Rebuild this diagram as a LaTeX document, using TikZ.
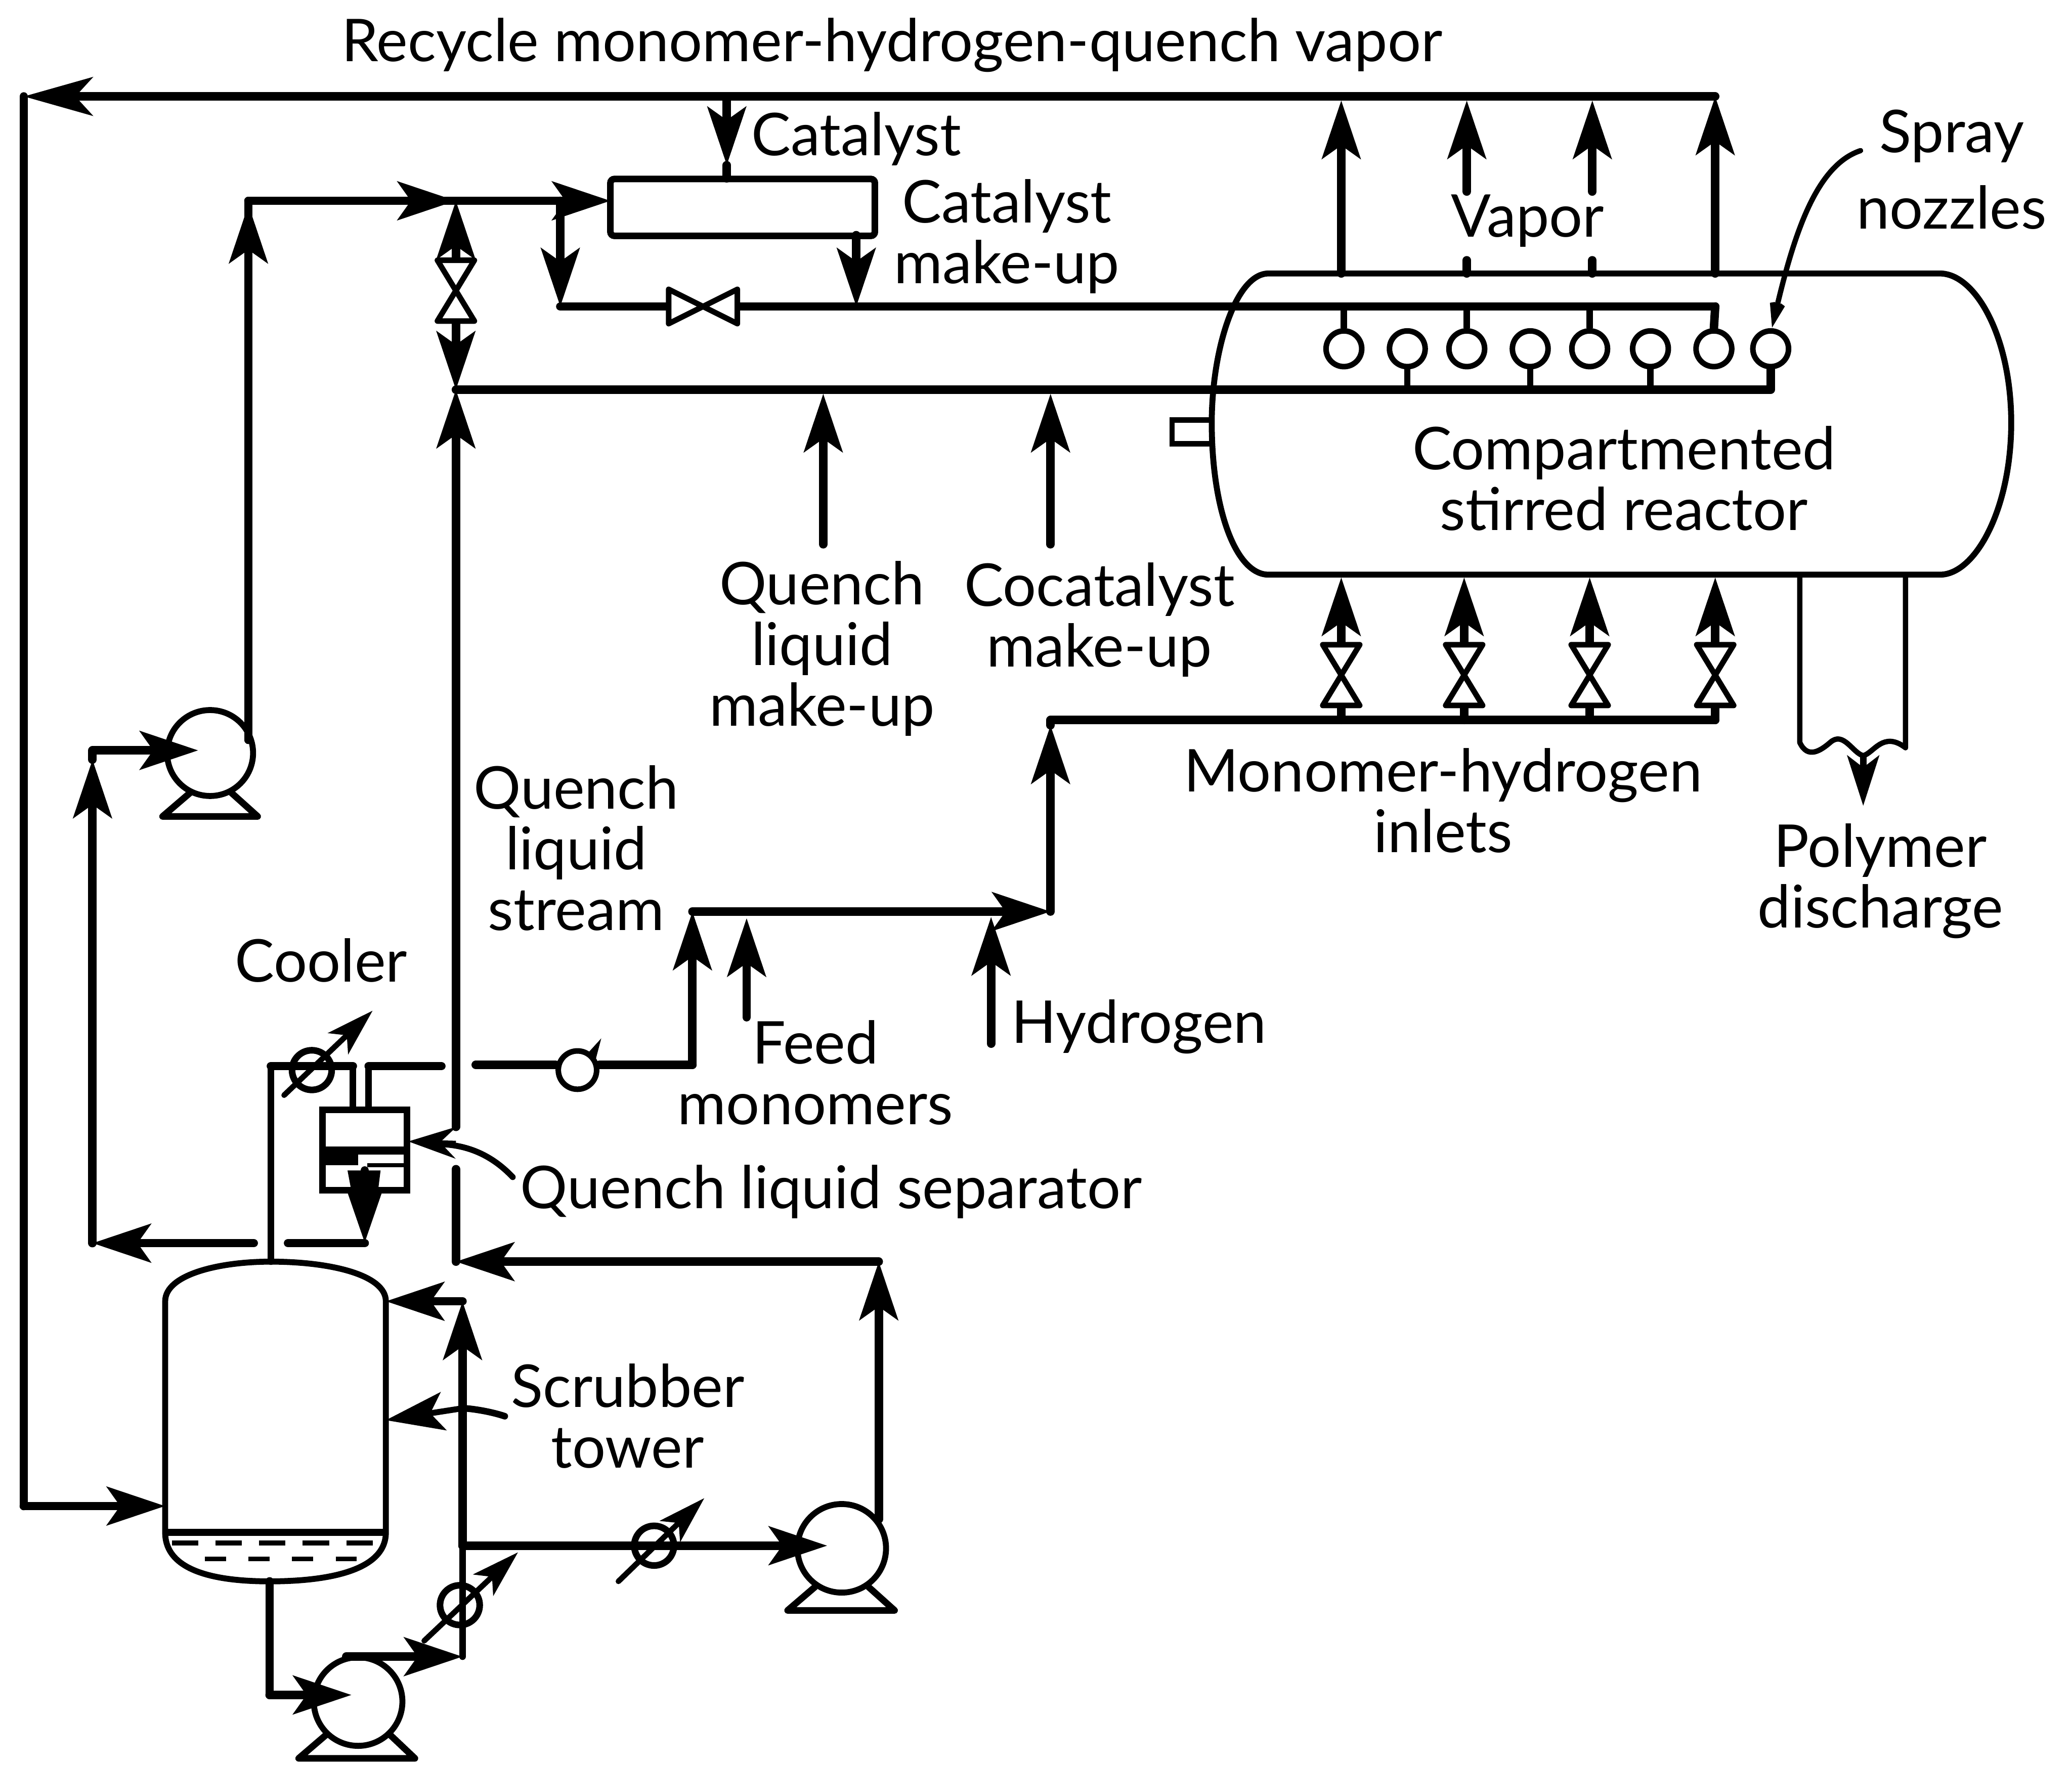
\documentclass[tikz,border=0pt]{standalone}
\usepackage{fontspec}
\setmainfont{Lato}
\usetikzlibrary{arrows.meta,calc}
\tikzset{
  pipe/.style={line width=.064cm,line cap=round,line join=round},
  thinpipe/.style={line width=.042cm,line cap=round,line join=round},
  hd/.style={-{Stealth[length=.44cm,width=.29cm,inset=.1cm]}},
  longhd/.style={-{Stealth[length=.52cm,width=.29cm,inset=.13cm]}},
  smallhd/.style={-{Stealth[length=.36cm,width=.22cm,inset=.09cm]}},
  openhd/.style={-{Stealth[length=.37cm,width=.24cm,inset=.22cm]}},
  lbl/.style={font=\fontsize{12.7}{13.04}\selectfont,align=center,inner sep=0pt,text=black},
  pumpc/.style={circle,draw,line width=.045cm,minimum size=.67cm,inner sep=0pt},
  nozzle/.style={circle,draw,line width=.042cm,minimum size=.27cm,inner sep=0pt,fill=white},
  ctrlv/.style={circle,draw,line width=.05cm,minimum size=.3cm,inner sep=0pt},
  vvalvept/.style={inner sep=0pt,minimum width=.28cm,minimum height=.46cm},
  hvalvept/.style={inner sep=0pt,minimum width=.52cm,minimum height=.26cm},
  bowv/.pic={\draw[line width=.042cm,fill=white,line join=round] (-14,-23)--(14,-23)--(-14,23)--(14,23)--cycle;},
  bowh/.pic={\draw[line width=.042cm,fill=white,line join=round] (-26,-13)--(26,13)--(26,-13)--(-26,13)--cycle;},
  box/.style={draw,line width=.05cm,rounded corners=.03cm,inner sep=0pt},
}
\begin{document}
\begin{tikzpicture}[x=.01cm,y=-.01cm]
\useasboundingbox (0,0) rectangle (1568,1336);
% ---------- key coordinates
\coordinate (rA) at (1298,73);
\coordinate (rB) at (18,73);
\coordinate (rC) at (18,1140);
\coordinate (twIn) at (125,1140);
\coordinate (twTopIn) at (292,985);
\coordinate (twSide) at (292,1075);
\coordinate (twTop) at (205,955);
\coordinate (twBot) at (204,1197);
\coordinate (vap1b) at (1015,207);
\coordinate (vap1t) at (1015,76);
\coordinate (vap2b) at (1110,145);
\coordinate (vap2t) at (1110,76);
\coordinate (vap2d) at (1110,197);
\coordinate (vap2e) at (1110,207);
\coordinate (vap3b) at (1205,145);
\coordinate (vap3t) at (1205,76);
\coordinate (vap3d) at (1205,197);
\coordinate (vap3e) at (1205,207);
\coordinate (vap4b) at (1298,207);
\coordinate (catTop) at (550,73);
\coordinate (catTip) at (550,125);
\coordinate (catIn) at (550,135);
\coordinate (lineA) at (188,152);
\coordinate (lineB) at (345,152);
\coordinate (lineC) at (424,152);
\coordinate (catW) at (462,152);
\coordinate (p3out) at (188,560);
\coordinate (lineAtip) at (188,155);
\coordinate (upL) at (424,232);
\coordinate (upM) at (648,232);
\coordinate (catBot) at (648,178);
\coordinate (upR) at (1298,232);
\coordinate (loL) at (345,295);
\coordinate (loR) at (1340,295);
\coordinate (mk1) at (623,412);
\coordinate (mk1t) at (623,298);
\coordinate (mk2) at (795,412);
\coordinate (mk2t) at (795,298);
\coordinate (inL) at (795,545);
\coordinate (inR) at (1298,545);
\coordinate (fdL) at (524,690);
\coordinate (fdR) at (795,690);
\coordinate (fdU) at (795,549);
\coordinate (ql1) at (360,806);
\coordinate (qlR) at (524,806);
\coordinate (fm) at (565,770);
\coordinate (fmt) at (565,695);
\coordinate (hy) at (750,790);
\coordinate (hyt) at (750,694);
\coordinate (qV) at (345,853);
\coordinate (qV2) at (345,885);
\coordinate (qB) at (345,955);
\coordinate (qRb) at (665,955);
\coordinate (p2out) at (665,1150);
\coordinate (cU) at (205,807);
\coordinate (cR) at (267,807);
\coordinate (sepL) at (267,840);
\coordinate (sepR) at (279,840);
\coordinate (cR2) at (279,807);
\coordinate (cE) at (334,807);
\coordinate (drB) at (276,886);
\coordinate (drT) at (276,941);
\coordinate (drL) at (218,941);
\coordinate (dlR) at (192,941);
\coordinate (dlL) at (70,941);
\coordinate (dlU) at (70,568);
\coordinate (dlUt) at (70,575);
\coordinate (p1in) at (204,1283);
\coordinate (p1top) at (262,1254);
\coordinate (c1) at (350,1254);
\coordinate (c2) at (350,1170);
\coordinate (c3) at (350,985);
\coordinate (scr) at (382,1072);
\coordinate (scr2) at (350,1066);
% ---------- equipment
\draw[line width=.045cm,line join=round] (960,207) .. controls (935,207) and (917,265) .. (917,320) .. controls (917,385) and (935,435) .. (960,435) -- (1468,435) .. controls (1495,435) and (1522,385) .. (1522,320) .. controls (1522,255) and (1495,207) .. (1468,207) -- cycle;
\draw[line width=.04cm] (917,318) -- (887,318) -- (887,336) -- (917,336);
\draw[line width=.045cm,line join=round] (twBot) .. controls (165,1197) and (125,1190) .. (125,1160) -- (125,985) .. controls (125,965) and (165,955) .. (twTop) .. controls (250,955) and (292,965) .. (292,985) -- (292,1160) .. controls (292,1190) and (245,1197) .. (twBot);
\draw[line width=.055cm] (125,1160) -- (292,1160);
\draw[line width=.04cm,dash pattern=on .2cm off .13cm] (130,1168) -- (290,1168);
\draw[line width=.035cm,dash pattern=on .16cm off .17cm] (155,1180) -- (282,1180);
\node[box,minimum width=2cm,minimum height=.43cm] (cat) at (562,157) {};
\node[box,minimum width=.64cm,minimum height=.61cm,rounded corners=0pt] (sep) at (276,870.5) {};
\draw[line width=.06cm] (sep.west |- 0,871) -- (sep.east |- 0,871);
\fill (244,871) rectangle (271,882);
\draw[line width=.03cm] (278,882) -- (308,882);
\fill (263,886) -- (288,886) -- (286,902) -- (266,902) -- cycle;
\node[pumpc] (p1) at (271,1288) {};
\node[pumpc] (p2) at (637,1172) {};
\node[pumpc,minimum size=.65cm] (p3) at (159,570) {};
\draw[line width=.05cm,line join=round] (247,1313) -- (226,1331) -- (314,1331) -- (295,1313);
\draw[line width=.05cm,line join=round] (617,1201) -- (596,1219) -- (677,1219) -- (657,1201);
\draw[line width=.05cm,line join=round] (144,600) -- (123,618) -- (195,618) -- (175,600);
% ---------- recycle
\draw[pipe,longhd] (rA) -- (rB);
\draw[pipe] (rB) -- (rC);
\draw[pipe,hd] (rC) -- (twIn);
\draw[pipe,hd] (vap1b) -- (vap1t);
\draw[pipe,hd] (vap2b) -- (vap2t);
\draw[pipe,hd] (vap3b) -- (vap3t);
\draw[pipe,hd] (vap4b) -- (rA);
\draw[pipe] (vap2d) -- (vap2e);
\draw[pipe] (vap3d) -- (vap3e);
\draw[pipe,hd] (catTop) -- (catTip);
\draw[pipe] (catTip) -- (catIn);
% ---------- catalyst feed
\draw[pipe] (p3out) -- (lineA) -- (lineB);
\draw[pipe,hd] (p3out) -- (lineAtip);
\draw[pipe,hd] (lineA) -- (lineB);
\draw[pipe,hd] (lineB) -- (catW);
\draw[pipe,hd] (lineC) -- (upL);
\node[vvalvept] (v0) at (345,220) {};
\node[hvalvept] (hv) at (532,232) {};
\draw[pipe,hd] (v0.north) -- (lineB);
\draw[pipe,hd] (v0.south) -- (loL);
\draw[pipe] (upL) -- (hv.west);
\draw[pipe] (hv.east) -- (upR);
\draw[pipe,hd] (catBot) -- (upM);
\path (v0) pic {bowv};
\path (hv) pic {bowh};
% ---------- spray headers
\foreach \i/\x in {1/1017,2/1065,3/1110,4/1158,5/1203,6/1249,7/1297,8/1340}
  \node[nozzle] (n\i) at (\x,264) {};
\foreach \i in {1,3,5} \draw[line width=.048cm] (n\i.north) -- (n\i.north |- upR);
\foreach \i in {2,4,6} \draw[line width=.048cm] (n\i.south) -- (n\i.south |- loR);
\draw[pipe] (upR) -- (n7.north);
\draw[pipe] (loL) -- (loR) -- (n8.south);
\draw[pipe,hd] (mk1) -- (mk1t);
\draw[pipe,hd] (mk2) -- (mk2t);
% ---------- monomer inlets
\foreach \i/\x in {1/1015,2/1108,3/1203,4/1298}{
  \node[vvalvept] (iv\i) at (\x,511) {};
  \coordinate (it\i) at (\x,437);
  \draw[pipe,hd] (iv\i.north) -- (it\i);
  \draw[pipe] (iv\i.south) -- (iv\i.south |- inR);
  \path (iv\i) pic {bowv};
}
\draw[pipe] (inL) -- (inR);
\draw[pipe,hd] (fdR) -- (fdU);
\draw[pipe] (fdU) -- (inL);
\draw[pipe,hd] (fdL) -- (fdR);
\draw[pipe,hd] (fm) -- (fmt);
\draw[pipe,hd] (hy) -- (hyt);
% ---------- polymer discharge
\coordinate (pdL) at (1362,435);
\coordinate (pdR) at (1442,435);
\coordinate (pdArrow) at (1410,570);
\coordinate (pdTip) at (1410,610);
\draw[line width=.04cm,line join=round,line cap=round] (pdL) -- (1362,562) .. controls (1368,575) and (1378,568) .. (1385,562) .. controls (1395,553) and (1402,570) .. (1410,572) .. controls (1418,570) and (1425,553) .. (1442,566) -- (pdR);
\draw[line width=.05cm,-{Stealth[length=.38cm,width=.24cm,inset=.09cm]}] (pdArrow) -- (pdTip);
% ---------- quench line
\node[nozzle,minimum size=.29cm] (chk) at (437,810) {};
\fill (445,797) -- (455,786) -- (450,805) -- cycle;
\draw[pipe] (ql1) -- (chk.west |- ql1);
\draw[pipe] (chk.east |- ql1) -- (qlR);
\draw[pipe,hd] (qlR) -- (fdL);
\draw[pipe] (qB) -- (qV2);
\draw[pipe,hd] (qV) -- (loL);
\draw[pipe,hd] (qRb) -- (qB);
\draw[pipe,hd] (p2out) -- (qRb);
% ---------- separator and cooler
\draw[line width=.05cm,line cap=round] (twTop) -- (cU);
\draw[pipe] (cU) -- (cR);
\draw[line width=.05cm] (cR) -- (sepL);
\draw[line width=.05cm] (sepR) -- (cR2);
\draw[pipe] (cR2) -- (cE);
\node[ctrlv] (cool) at (236,810) {};
\coordinate (coolA) at (215,829);
\coordinate (coolB) at (282,765);
\draw[thinpipe,smallhd] (coolA) -- (coolB);
\draw[pipe,-{Stealth[length=.4cm,width=.26cm,inset=.02cm]}] (drB) -- (drT);
\draw[pipe] (drT) -- (drL);
\draw[pipe,hd] (dlR) -- (dlL);
\draw[pipe,hd] (dlL) -- (dlUt);
\draw[pipe] (dlUt) -- (dlU);
\draw[pipe,hd] (dlU) -- (150,568);
% leader of separator
\coordinate (sepLead) at (388,891);
\draw[line width=.045cm,line cap=round] (sepLead) .. controls (370,872) and (350,866) .. (330,866);
\coordinate (sepTip) at (309,864);
\draw[line width=.03cm,-{Stealth[length=.36cm,width=.24cm,inset=.12cm]}] (345,865) -- (sepTip);
% ---------- scrubber loop
\draw[pipe] (p1in) -- (twBot);
\coordinate (p1tip) at (266,1283);
\draw[pipe,hd] (p1in) -- (p1tip);
\draw[pipe,hd] (p1top) -- (c1);
\draw[line width=.05cm,line cap=round] (c1) -- (c2);
\draw[pipe,hd] (c2) -- (c3);
\draw[pipe,hd] (c3) -- (twTopIn);
\draw[line width=.05cm,line cap=round] (scr) .. controls (370,1068) and (355,1066) .. (scr2);
\draw[line width=.045cm,hd] (scr2) -- (twSide);
\coordinate (p2tip) at (626,1170);
\draw[pipe,hd] (c2) -- (p2tip);
\node[ctrlv] (cv1) at (348,1215) {};
\node[ctrlv] (cv2) at (495,1170) {};
\coordinate (cv1A) at (321,1242);
\coordinate (cv1B) at (392,1175);
\coordinate (cv2A) at (468,1197);
\coordinate (cv2B) at (533,1134);
\draw[thinpipe,smallhd] (cv1A) -- (cv1B);
\draw[thinpipe,smallhd] (cv2A) -- (cv2B);
% ---------- spray leader
\coordinate (spA) at (1408,114);
\coordinate (spB) at (1341,248);
\draw[line width=.04cm,line cap=round,openhd] (spA) .. controls (1375,125) and (1358,175) .. (spB);
% ---------- labels
\node[lbl] (t1) at (675,34) {Recycle monomer-hydrogen-quench vapor};
\node[lbl] (t2) at (648,105) {Catalyst};
\node[lbl] (t3) at (762,179) {Catalyst\\make-up};
\node[lbl] (t4) at (1156,167) {Vapor};
\node[lbl] (t5a) at (1477,103) {Spray};
\node[lbl] (t5b) at (1477,157) {nozzles};
\node[lbl] (t6) at (1229,362) {Compartmented\\stirred reactor};
\node[lbl] (t7) at (622,491) {Quench\\liquid\\make-up};
\node[lbl] (t8) at (832,469) {Cocatalyst\\make-up};
\node[lbl] (t9) at (1092,606) {Monomer-hydrogen\\inlets};
\node[lbl] (t10) at (1423,667) {Polymer\\discharge};
\node[lbl] (t11) at (436,642) {Quench\\liquid\\stream};
\node[lbl] (t12) at (243,727) {Cooler};
\node[lbl] (t13) at (862,777) {Hydrogen};
\node[lbl] (t14) at (617,812) {Feed\\monomers};
\node[lbl] (t15) at (629,902) {Quench liquid separator};
\node[lbl] (t16) at (475,1072) {Scrubber\\tower};
\end{tikzpicture}
\end{document}
